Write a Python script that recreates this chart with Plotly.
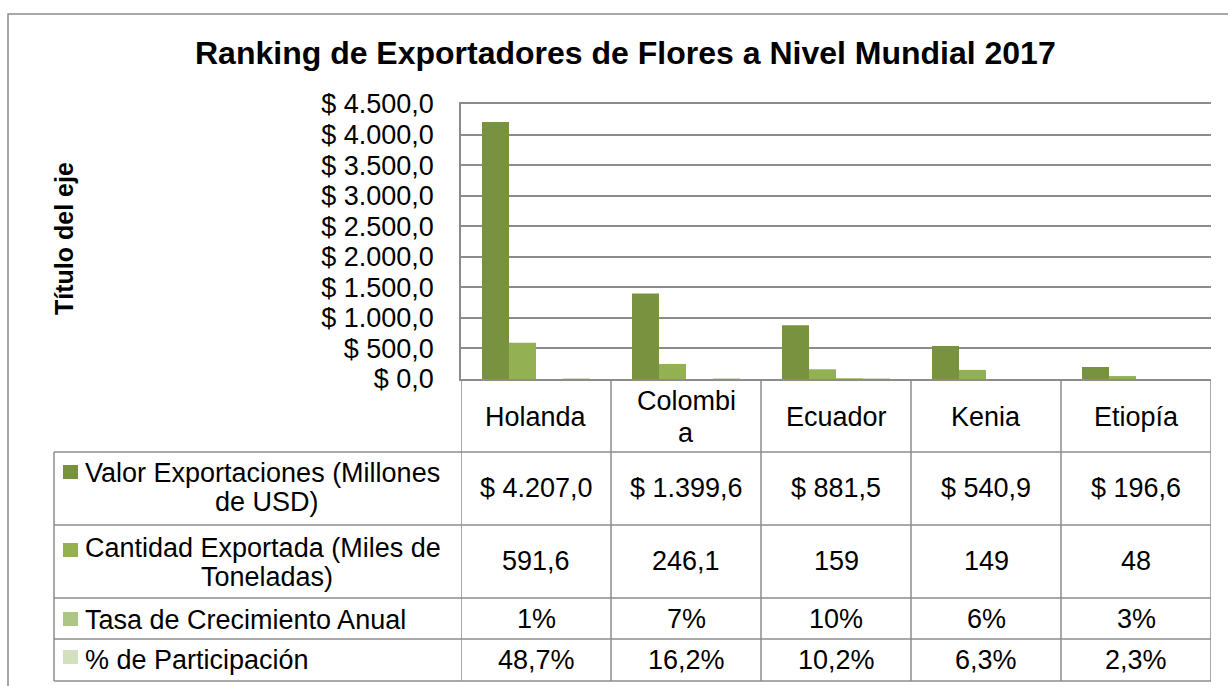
import plotly.graph_objects as go

# ---------------- data ----------------
categories = ["Holanda", "Colombia", "Ecuador", "Kenia", "Etiopía"]
category_labels = ["Holanda", "Colombi<br>a", "Ecuador", "Kenia", "Etiopía"]

series_names = [
    "Valor Exportaciones (Millones<br>de USD)",
    "Cantidad Exportada (Miles de<br>Toneladas)",
    "Tasa de Crecimiento Anual",
    "% de Participación",
]
valor = [4207.0, 1399.6, 881.5, 540.9, 196.6]
cantidad = [591.6, 246.1, 159, 149, 48]
tasa = [0.01, 0.07, 0.10, 0.06, 0.03]
participacion = [0.487, 0.162, 0.102, 0.063, 0.023]

title_text = "Ranking de Exportadores de Flores a Nivel Mundial 2017"
axis_title = "Título del eje"

colors = ["#79923F", "#93B053", "#AEC685", "#D3E0BE"]
GRID = "#8C8C8C"
FONT = "Liberation Sans, Arial, sans-serif"
FS = 27

W, H = 1228, 686


def fx(px):
    return px / W


def fy(py):
    return 1 - py / H


def fmt_num(v, dec):
    s = f"{v:,.{dec}f}"
    return s.replace(",", "X").replace(".", ",").replace("X", ".")


def fmt_plain(v):
    if float(v).is_integer():
        return str(int(v))
    return fmt_num(v, 1)


def fmt_pct(v):
    p = round(v * 100, 1)
    if float(p).is_integer():
        return f"{int(p)}%"
    return fmt_num(p, 1) + "%"


rows_text = [
    ["$ " + fmt_num(v, 1) for v in valor],
    [fmt_plain(v) for v in cantidad],
    [fmt_pct(v) for v in tasa],
    [fmt_pct(v) for v in participacion],
]
series_values = [valor, cantidad, tasa, participacion]

fig = go.Figure()
for name, vals, col in zip(series_names, series_values, colors):
    fig.add_trace(go.Bar(x=categories, y=vals, name=name.replace("<br>", " "),
                         marker=dict(color=col, line=dict(width=0)),
                         showlegend=False))

# ---------------- layout geometry (pixels) ----------------
plot_l, plot_r, plot_t, plot_b = 461, 1211, 104, 379
table_l = 54
row_lines = [452, 525, 598, 639, 681]
row_centers = [488, 561, 619, 660]
header_center = 417
legend_sq = [(465, 479), (543, 557), (612, 626), (650, 664)]
first_line_y = [473, 548, 620, 660]

fig.update_layout(
    width=W, height=H,
    margin=dict(l=0, r=0, t=0, b=0, autoexpand=False),
    paper_bgcolor="white", plot_bgcolor="white",
    separators=",.",
    showlegend=False,
    barmode="group", bargap=0.28, bargroupgap=0,
    font=dict(family=FONT, size=FS, color="black"),
    xaxis=dict(domain=[fx(plot_l), fx(plot_r)], showticklabels=False,
               showgrid=False, showline=True, mirror=True, automargin=False,
               linecolor=GRID, linewidth=1.5, ticks="",
               range=[-0.5, 4.5], fixedrange=True),
    yaxis=dict(domain=[fy(plot_b), fy(plot_t)], range=[0, 4500], dtick=500,
               tick0=0, tickformat=",.1f", tickprefix="$ ", automargin=False,
               showgrid=True, gridcolor=GRID, gridwidth=1.5,
               showline=True, linecolor=GRID, linewidth=1.5,
               zeroline=False, ticks="", ticklabelstandoff=20,
               tickfont=dict(family=FONT, size=FS, color="black")),
)

shapes = []
# outer chart border
shapes.append(dict(type="rect", xref="paper", yref="paper",
                   x0=fx(8), x1=fx(1240), y0=fy(700), y1=fy(14),
                   line=dict(color=GRID, width=1.5)))
# table horizontal lines
for ry in row_lines:
    shapes.append(dict(type="line", xref="paper", yref="paper",
                       x0=fx(table_l), x1=fx(plot_r), y0=fy(ry), y1=fy(ry),
                       line=dict(color=GRID, width=1.5)))
# legend column left border
shapes.append(dict(type="line", xref="paper", yref="paper",
                   x0=fx(table_l), x1=fx(table_l), y0=fy(row_lines[0]), y1=fy(row_lines[-1]),
                   line=dict(color=GRID, width=1.5)))
# category column separators
for i in range(len(categories) + 1):
    shapes.append(dict(type="line", xref="x", yref="paper",
                       x0=i - 0.5, x1=i - 0.5, y0=fy(plot_b), y1=fy(row_lines[-1]),
                       line=dict(color=GRID, width=1.5)))
# legend keys
for (y0, y1), col in zip(legend_sq, colors):
    shapes.append(dict(type="rect", xref="paper", yref="paper",
                       x0=fx(63), x1=fx(78), y0=fy(y1), y1=fy(y0),
                       fillcolor=col, line=dict(width=0)))

ann = []
# title
ann.append(dict(text="<b>" + title_text + "</b>", xref="paper", yref="paper",
                x=fx(625), y=fy(53), xanchor="center", yanchor="middle",
                showarrow=False, font=dict(family=FONT, size=32, color="black")))
# y-axis title
ann.append(dict(text="<b>" + axis_title + "</b>", xref="paper", yref="paper",
                x=fx(64), y=fy(239), xanchor="center", yanchor="middle",
                textangle=-90, showarrow=False,
                font=dict(family=FONT, size=25, color="black")))
# category header row
for cat, lab in zip(categories, category_labels):
    lines = lab.split("<br>")
    n = len(lines)
    for k, ln in enumerate(lines):
        yy = header_center + (k - (n - 1) / 2) * 32
        ann.append(dict(text=ln, xref="x", yref="paper", x=cat, y=fy(yy),
                        xanchor="center", yanchor="middle", showarrow=False,
                        font=dict(family=FONT, size=FS, color="black")))
# legend names
for name, ly in zip(series_names, first_line_y):
    lines = name.split("<br>")
    for k, ln in enumerate(lines):
        yy = ly + k * 29
        if k == 0:
            ann.append(dict(text=ln, xref="paper", yref="paper", x=fx(83), y=fy(yy),
                            xanchor="left", yanchor="middle", showarrow=False,
                            font=dict(family=FONT, size=FS, color="black")))
        else:
            ann.append(dict(text=ln, xref="paper", yref="paper", x=fx(267), y=fy(yy),
                            xanchor="center", yanchor="middle", showarrow=False,
                            font=dict(family=FONT, size=FS, color="black")))
# table values
for texts, cy in zip(rows_text, row_centers):
    for cat, t in zip(categories, texts):
        ann.append(dict(text=t, xref="x", yref="paper", x=cat, y=fy(cy),
                        xanchor="center", yanchor="middle", showarrow=False,
                        font=dict(family=FONT, size=FS, color="black")))

fig.update_layout(shapes=shapes, annotations=ann)
fig.write_html("out.html", config={"displayModeBar": False},
               post_script="document.body.style.margin='0';document.body.style.padding='0';")
